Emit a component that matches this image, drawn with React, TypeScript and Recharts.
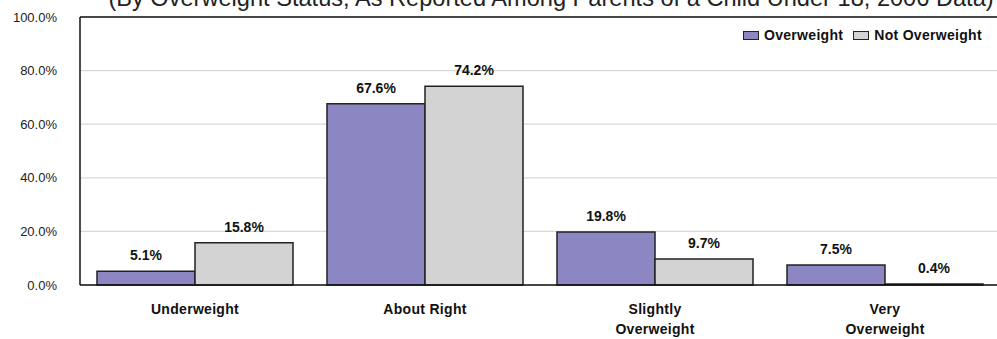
import React from 'react';
import { BarChart, Bar, XAxis, YAxis, CartesianGrid, LabelList, ReferenceLine } from 'recharts';

const categories = ['Underweight', 'About Right', 'Slightly\nOverweight', 'Very\nOverweight'];
const overweight = [5.1, 67.6, 19.8, 7.5];
const notOverweight = [15.8, 74.2, 9.7, 0.4];
const yTicks = [0, 20, 40, 60, 80, 100];

const titleText = '(By Overweight Status, As Reported Among Parents of a Child Under 18, 2006 Data)';

const PURPLE = '#8c87c2';
const GREY = '#d3d3d3';
const FONT = '"Liberation Sans", Arial, sans-serif';

const data = categories.map((name, i) => ({
  name,
  overweight: overweight[i],
  notOverweight: notOverweight[i],
}));

const pct = (v: number) => `${Number(v).toFixed(1)}%`;

const labelStyle = { fontFamily: FONT, fontWeight: 'bold', fontSize: 14, fill: '#111' };

// category labels, some on two lines
const CategoryTick = (props: any) => {
  const { x, y, payload } = props;
  const lines = String(payload.value).split('\n');
  return (
    <g transform={`translate(${x},${y})`}>
      {lines.map((line, i) => (
        <text
          key={i}
          x={0}
          y={27 + i * 20}
          textAnchor="middle"
          fontFamily={FONT}
          fontWeight="bold"
          fontSize={14}
          letterSpacing={0.3}
          fill="#111"
        >
          {line}
        </text>
      ))}
    </g>
  );
};

const LegendBox = () => (
  <div
    style={{
      position: 'absolute', top: 27, left: 743, display: 'flex', alignItems: 'center',
      fontFamily: FONT, fontWeight: 'bold', fontSize: 14, letterSpacing: 0.3, color: '#111', lineHeight: '16px',
    }}
  >
    <span style={{ width: 14, height: 7, background: PURPLE, border: '1.5px solid #222', marginRight: 5 }} />
    <span style={{ marginRight: 10 }}>Overweight</span>
    <span style={{ width: 14, height: 7, background: GREY, border: '1.5px solid #222', marginRight: 5 }} />
    <span>Not Overweight</span>
  </div>
);

const App: React.FC = () => {
  return (
    <div style={{ position: 'absolute', left: 0, top: 0, width: 997, height: 339, overflow: 'hidden', background: '#fff' }}>
      <BarChart
        width={1000}
        height={339}
        data={data}
        margin={{ top: 17, right: 0, bottom: 0, left: 0 }}
        barCategoryGap={17}
        barGap={0}
      >
        <CartesianGrid horizontal vertical={false} stroke="#d9d9d9" strokeWidth={1.2} />
        <XAxis
          dataKey="name"
          height={54}
          tickLine={false}
          tickSize={0}
          axisLine={{ stroke: '#111', strokeWidth: 1.5 }}
          tick={<CategoryTick />}
          interval={0}
        />
        <YAxis
          width={80}
          domain={[0, 100]}
          ticks={yTicks}
          tickFormatter={pct}
          tickLine={false}
          tickSize={0}
          tickMargin={23}
          axisLine={{ stroke: '#111', strokeWidth: 1.5 }}
          tick={{ fontFamily: FONT, fontSize: 13, fill: '#222' }}
        />
        <ReferenceLine y={100} stroke="#111" strokeWidth={1.5} />
        <Bar dataKey="overweight" name="Overweight" fill={PURPLE} stroke="#222" strokeWidth={1.5} isAnimationActive={false}>
          <LabelList dataKey="overweight" position="top" offset={11} formatter={pct} style={labelStyle} />
        </Bar>
        <Bar dataKey="notOverweight" name="Not Overweight" fill={GREY} stroke="#222" strokeWidth={1.5} isAnimationActive={false}>
          <LabelList dataKey="notOverweight" position="top" offset={11} formatter={pct} style={labelStyle} />
        </Bar>
      </BarChart>
      <svg width={997} height={20} style={{ position: 'absolute', left: 0, top: 0 }}>
        <text x={551} y={6} textAnchor="middle" fontFamily={FONT} fontSize={23.6} fill="#222">
          {titleText}
        </text>
      </svg>
      <LegendBox />
    </div>
  );
};

export default App;
